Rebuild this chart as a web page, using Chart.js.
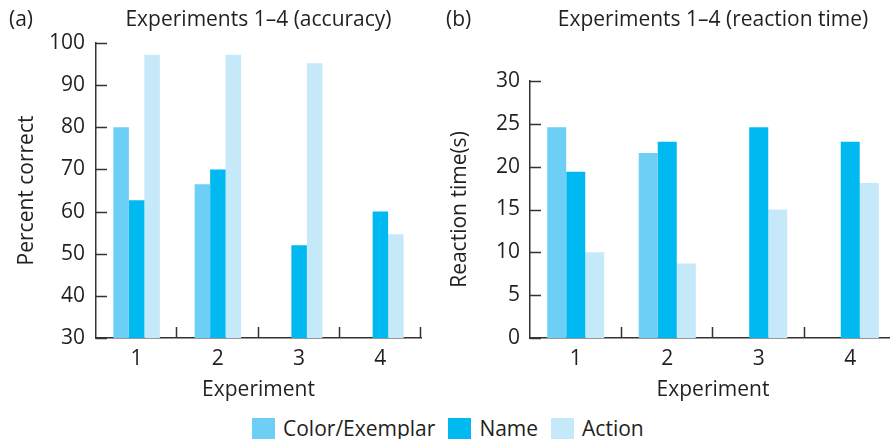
<!DOCTYPE html>
<html>
<head>
<meta charset="utf-8">
<script src="https://cdn.jsdelivr.net/npm/chart.js@4/dist/chart.umd.min.js"></script>
<style>
  body { margin: 0; background: #fff; overflow: hidden; width: 890px; height: 439px; position: relative; font-family: "Open Sans", sans-serif; color: #231f20; }
  canvas { position: absolute; top: 0; }
  #legend { position: absolute; top: 417px; left: 252px; display: flex; align-items: center; font-size: 21px; line-height: 22px; }
  #legend .box { width: 23px; height: 21px; margin-right: 8px; }
  #legend .item { display: flex; align-items: center; margin-right: 13px; }
</style>
</head>
<body>
<canvas id="accChart" width="445" height="405" style="left:0"></canvas>
<canvas id="rtChart" width="460" height="405" style="left:445px"></canvas>
<div id="legend"></div>

<script>
// categories and series
var experiments = ['1', '2', '3', '4'];
var seriesNames = ['Color/Exemplar', 'Name', 'Action'];
var seriesColors = ['#6dcff6', '#00b9f1', '#c5e9f9'];

// (a) accuracy, percent correct
var accColor = [80, 66.5, null, null];
var accName = [62.7, 70, 52, 60];
var accAction = [97.2, 97.2, 95.2, 54.6];
var accTicks = [30, 40, 50, 60, 70, 80, 90, 100];

// (b) reaction time, seconds
var rtColor = [24.6, 21.6, null, null];
var rtName = [19.4, 22.9, 24.6, 22.9];
var rtAction = [10, 8.7, 15, 18.1];
var rtTicks = [0, 5, 10, 15, 20, 25, 30];

var textColor = '#231f20';
var axisColor = '#333333';
var fontFamily = '"Open Sans", sans-serif';
var fontSize = 21;

// short tick marks pointing into the plot, plus the panel letter
var innerTicks = {
    id: 'innerTicks',
    afterDraw: function (chart, args, opts) {
        var ctx = chart.ctx;
        var area = chart.chartArea;
        var y = chart.scales.y;
        var n = chart.data.labels.length;
        ctx.save();
        ctx.strokeStyle = axisColor;
        ctx.lineWidth = 1.5;
        ctx.beginPath();
        y.ticks.forEach(function (t) {
            var py = Math.round(y.getPixelForValue(t.value)) + 0.5;
            ctx.moveTo(area.left, py);
            ctx.lineTo(area.left + 11, py);
        });
        for (var i = 1; i <= n; i++) {
            var px = Math.round(area.left + i * (area.right - area.left) / n) - 0.5;
            ctx.moveTo(px, area.bottom);
            ctx.lineTo(px, area.bottom - 11);
        }
        ctx.stroke();
        ctx.fillStyle = textColor;
        ctx.font = fontSize + 'px ' + fontFamily;
        ctx.textBaseline = 'middle';
        ctx.fillText(opts.label, opts.x, 20);
        ctx.restore();
    }
};

function makeChart(id, cfg) {
    var font = { family: fontFamily, size: fontSize, weight: 'normal', lineHeight: 1.2 };
    return new Chart(document.getElementById(id), {
        type: 'bar',
        data: {
            labels: experiments,
            datasets: cfg.series.map(function (vals, i) {
                return { label: seriesNames[i], data: vals, backgroundColor: seriesColors[i], borderWidth: 0 };
            })
        },
        options: {
            responsive: false,
            animation: false,
            barPercentage: 1,
            categoryPercentage: cfg.catPct,
            layout: { padding: { left: 0, right: cfg.padRight, top: 0, bottom: 0 } },
            plugins: {
                legend: { display: false },
                tooltip: { enabled: false },
                title: {
                    display: true,
                    fullSize: false,
                    text: cfg.title,
                    color: textColor,
                    font: font,
                    padding: { top: 7.4, bottom: cfg.titleGap }
                },
                innerTicks: { label: cfg.panel, x: cfg.panelX }
            },
            scales: {
                x: {
                    offset: true,
                    grid: { display: false, drawTicks: false },
                    border: { display: true, color: axisColor, width: 1.5 },
                    ticks: { color: textColor, padding: 8.4, font: font },
                    title: {
                        display: true, text: 'Experiment', color: textColor,
                        font: font, padding: { top: 0, bottom: 2.4 }
                    },
                    afterFit: function (s) { s.height = 67; }
                },
                y: {
                    min: cfg.ticks[0],
                    max: cfg.ticks[cfg.ticks.length - 1],
                    afterBuildTicks: function (s) { s.ticks = cfg.ticks.map(function (v) { return { value: v }; }); },
                    grid: { display: false, drawTicks: false },
                    border: { display: true, color: axisColor, width: 1.5 },
                    ticks: { color: textColor, padding: cfg.tickPad, font: font },
                    title: {
                        display: true, text: cfg.yTitle, color: textColor,
                        font: font, padding: { top: cfg.yTitlePad, bottom: 0 }
                    },
                    afterFit: function (s) { s.width = cfg.yWidth; }
                }
            }
        },
        plugins: [innerTicks]
    });
}

makeChart('accChart', {
    series: [accColor, accName, accAction],
    ticks: accTicks,
    title: 'Experiments 1\u20134 (accuracy)',
    yTitle: 'Percent correct',
    panel: '(a)', panelX: 9,
    catPct: 0.572, padRight: 24, titleGap: 10.4,
    yWidth: 96, tickPad: 11, yTitlePad: 14.4
});

makeChart('rtChart', {
    series: [rtColor, rtName, rtAction],
    ticks: rtTicks,
    title: 'Experiments 1\u20134 (reaction time)',
    yTitle: 'Reaction time(s)',
    panel: '(b)', panelX: 1,
    catPct: 0.623, padRight: 9, titleGap: 48.4,
    yWidth: 85, tickPad: 10, yTitlePad: 2.4
});

// shared legend under both panels
var legend = document.getElementById('legend');
seriesNames.forEach(function (name, i) {
    var item = document.createElement('div');
    item.className = 'item';
    var box = document.createElement('div');
    box.className = 'box';
    box.style.background = seriesColors[i];
    var txt = document.createElement('span');
    txt.textContent = name;
    item.appendChild(box);
    item.appendChild(txt);
    legend.appendChild(item);
});
</script>
</body>
</html>
